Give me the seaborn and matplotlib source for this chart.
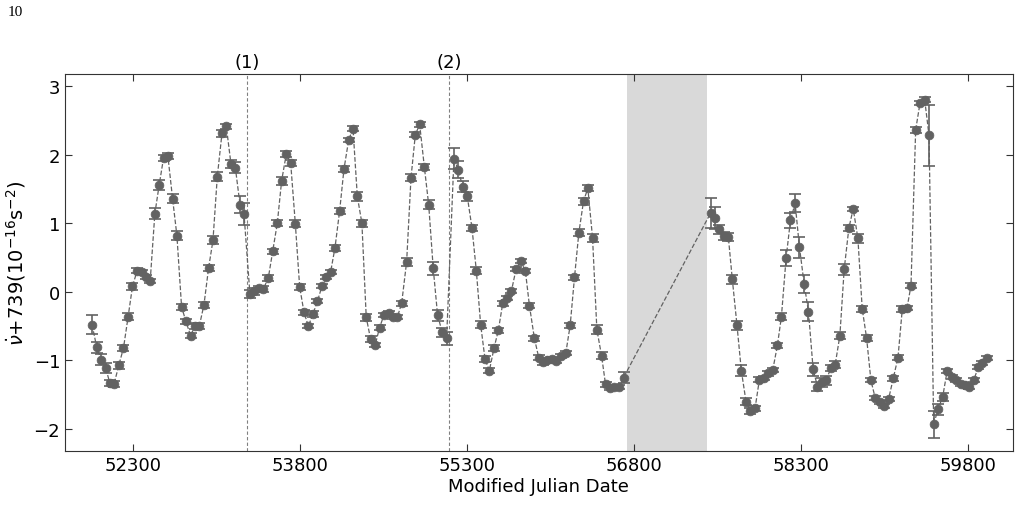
import matplotlib
matplotlib.use("Agg")
import matplotlib.pyplot as plt
import seaborn as sns
import numpy as np
import pandas as pd

mjd = [51932,51974,52013,52055,52091,52130,52172,52214,52256,52295,52337,52376,52415,52454,52496,52535,52574,52613,52655,52694,
       52736,52775,52817,52856,52895,52937,52979,53018,53057,53099,53138,53180,53219,53261,53297,
       53350,53390,53431,53470,53515,53554,53596,53635,53677,53716,53758,53797,53836,53875,53917,53956,53997,54036,54075,54114,
       54156,54195,54237,54276,54315,54356,54395,54434,54476,54515,54554,54596,54635,54674,54713,54758,54797,54836,54875,54917,
       54956,54997,55036,55078,55117,
       55183,55222,55261,55303,55345,55384,55423,55462,55501,55543,55582,55621,55660,55699,55741,55783,55825,55861,55906,55945,
       55984,56023,56065,56104,56143,56188,56227,56266,56305,56347,56386,56428,56467,56509,56545,56584,56623,56665,56707,
       57489,57525,57567,57609,57648,57684,57726,57765,57807,57846,57888,57927,57966,58005,58047,58089,58125,58167,58206,58248,
       58287,58329,58368,58410,58449,58488,58527,58569,58608,58650,58689,58731,58770,58812,58851,58890,58929,58968,59007,59049,
       59088,59130,59172,59211,59253,59289,59331,59370,59412,59451,59493,59532,59574,59613,59655,59697,59739,59778,59811,59853,
       59892,59931,59973]
nudot = [-0.48,-0.81,-0.99,-1.11,-1.33,-1.34,-1.07,-0.82,-0.36,0.08,0.31,0.29,0.22,0.16,1.14,1.56,1.95,1.98,1.36,0.82,
         -0.22,-0.43,-0.64,-0.50,-0.50,-0.19,0.35,0.75,1.68,2.31,2.41,1.86,1.81,1.27,1.13,
         -0.03,0.01,0.05,0.04,0.20,0.59,1.00,1.62,2.01,1.88,0.99,0.07,-0.30,-0.50,-0.32,-0.14,0.08,0.21,0.29,0.64,
         1.18,1.79,2.21,2.38,1.39,1.00,-0.37,-0.69,-0.77,-0.52,-0.34,-0.31,-0.37,-0.37,-0.17,0.44,1.66,2.29,2.44,1.82,
         1.27,0.34,-0.34,-0.59,-0.68,
         1.94,1.78,1.53,1.39,0.93,0.31,-0.48,-0.98,-1.15,-0.82,-0.56,-0.17,-0.09,0.01,0.33,0.45,0.30,-0.20,-0.68,-0.96,
         -1.03,-0.99,-0.98,-1.01,-0.94,-0.89,-0.49,0.21,0.86,1.32,1.51,0.79,-0.55,-0.93,-1.35,-1.40,-1.39,-1.39,-1.25,
         1.15,1.07,0.91,0.81,0.80,0.18,-0.49,-1.15,-1.60,-1.74,-1.70,-1.28,-1.26,-1.19,-1.14,-0.78,-0.36,0.49,1.04,1.29,
         0.65,0.12,-0.29,-1.13,-1.38,-1.32,-1.29,-1.11,-1.06,-0.64,0.33,0.93,1.21,0.78,-0.25,-0.67,-1.29,-1.55,-1.60,-1.67,
         -1.56,-1.26,-0.96,-0.25,-0.24,0.09,2.36,2.75,2.80,2.28,-1.93,-1.71,-1.53,-1.16,-1.24,-1.29,-1.34,-1.36,-1.38,-1.29,
         -1.10,-1.04,-0.96]
err = [0.14,0.08,0.08,0.07,0.04,0.04,0.05,0.04,0.05,0.05,0.04,0.03,0.03,0.03,0.08,0.07,0.05,0.04,0.07,0.07,
       0.04,0.04,0.04,0.04,0.04,0.04,0.04,0.06,0.07,0.05,0.04,0.06,0.08,0.12,0.16,
       0.06,0.05,0.04,0.04,0.04,0.04,0.04,0.06,0.04,0.04,0.05,0.04,0.04,0.03,0.04,0.03,0.03,0.03,0.03,0.04,
       0.04,0.04,0.03,0.03,0.06,0.05,0.05,0.04,0.03,0.03,0.03,0.03,0.03,0.03,0.04,0.06,0.05,0.04,0.04,0.05,
       0.07,0.09,0.08,0.07,0.09,
       0.15,0.12,0.08,0.07,0.04,0.05,0.05,0.04,0.04,0.04,0.04,0.03,0.03,0.03,0.03,0.03,0.03,0.04,0.04,0.04,
       0.03,0.03,0.03,0.03,0.03,0.03,0.04,0.04,0.05,0.05,0.04,0.06,0.07,0.05,0.04,0.03,0.03,0.03,0.08,
       0.22,0.16,0.07,0.06,0.06,0.07,0.07,0.08,0.05,0.04,0.04,0.04,0.03,0.03,0.03,0.04,0.05,0.12,0.11,0.13,
       0.15,0.13,0.14,0.09,0.06,0.06,0.07,0.05,0.05,0.05,0.08,0.04,0.03,0.07,0.05,0.04,0.03,0.03,0.03,0.03,
       0.03,0.04,0.04,0.04,0.03,0.04,0.04,0.03,0.04,0.45,0.2,0.08,0.06,0.03,0.03,0.03,0.03,0.03,0.03,0.03,
       0.03,0.03,0.03]
event_mjd = [53326, 55141]
event_labels = ["(1)", "(2)"]
gap = (56734, 57458)

df = pd.DataFrame({"mjd": mjd, "nudot": nudot, "err": err})
sns.set_style("ticks")
plt.rcParams['font.family'] = ['DejaVu Sans']
for k in ["text.color", "axes.labelcolor", "xtick.color", "ytick.color"]:
    plt.rcParams[k] = "black"
fig = plt.figure(figsize=(10.21, 5.10), dpi=100)
ax = fig.add_axes([0.0637, 0.1137, 0.9283, 0.7393])
col = "#626262"
ax.axvspan(*gap, color="#d9d9d9", lw=0, zorder=0)
for m, l in zip(event_mjd, event_labels):
    ax.axvline(m, color="#808080", ls="--", lw=0.8, dashes=(3, 2))
    ax.text(m, 3.22, l, ha="center", va="bottom", fontsize=13)
sns.lineplot(data=df, x="mjd", y="nudot", ax=ax, color=col, lw=0.9, ls="--", sort=False, estimator=None)
ax.errorbar(df.mjd, df.nudot, yerr=df.err, fmt="none", ecolor=col, elinewidth=1.2, capsize=4, capthick=1.2)
sns.scatterplot(data=df, x="mjd", y="nudot", ax=ax, color=col, s=40, edgecolor=col, zorder=3)
ax.set_xlim(51689, 60204)
ax.set_ylim(-2.32, 3.175)
ax.set_xticks([52300, 53800, 55300, 56800, 58300, 59800])
ax.set_yticks([-2, -1, 0, 1, 2, 3])
ax.tick_params(direction="in", top=True, right=True, labelsize=13, length=5, color="#333333")
ax.set_xlabel("Modified Julian Date", fontsize=13, labelpad=2)
ax.set_ylabel(r"$\dot{\nu}$+739(10$^{-16}$s$^{-2}$)", fontsize=14)
for s in ax.spines.values():
    s.set_color("#333333")
fig.text(8/1021, 1-12/510, "10", fontsize=11, family="Liberation Serif", va="center")
fig.savefig("out.png", dpi=100)
